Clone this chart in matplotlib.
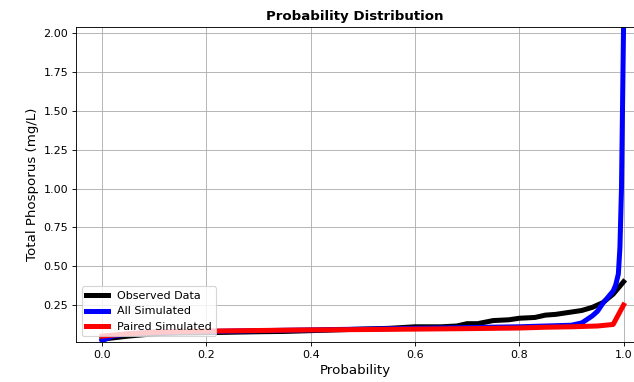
import matplotlib.pyplot as plt
import numpy as np

# probability (x) and total phosphorus (y)
obs_prob = [0.0, 0.05, 0.1, 0.15, 0.2, 0.25, 0.3, 0.35, 0.4, 0.45, 0.5, 0.55,
            0.6, 0.65, 0.68, 0.7, 0.72, 0.75, 0.78, 0.8, 0.83, 0.85, 0.87,
            0.9, 0.92, 0.94, 0.96, 0.98, 1.0]
obs_tp = [0.03, 0.05, 0.065, 0.07, 0.072, 0.075, 0.078, 0.08, 0.085, 0.09, 0.095,
          0.1, 0.11, 0.11, 0.115, 0.13, 0.13, 0.15, 0.155, 0.165, 0.17, 0.185,
          0.19, 0.205, 0.215, 0.235, 0.265, 0.32, 0.40]

all_prob = [0.0, 0.02, 0.05, 0.1, 0.2, 0.3, 0.4, 0.5, 0.6, 0.7, 0.8, 0.85, 0.9,
            0.92, 0.94, 0.95, 0.96, 0.97, 0.98, 0.985, 0.99, 0.993, 0.996, 1.0]
all_tp = [0.02, 0.05, 0.065, 0.075, 0.08, 0.085, 0.09, 0.095, 0.1, 0.105, 0.11,
          0.115, 0.12, 0.135, 0.18, 0.21, 0.26, 0.3, 0.34, 0.38, 0.45, 0.62,
          1.0, 2.05]

pair_prob = [0.0, 0.05, 0.1, 0.2, 0.3, 0.4, 0.5, 0.6, 0.7, 0.8, 0.85, 0.9,
             0.95, 0.98, 1.0]
pair_tp = [0.05, 0.065, 0.075, 0.082, 0.086, 0.09, 0.092, 0.095, 0.098, 0.102,
           0.107, 0.11, 0.115, 0.125, 0.25]

fig = plt.figure(figsize=(634/80, 382/80), dpi=80)
ax = fig.add_axes([76/634, 40/382, 558/634, 315/382])

ax.plot(obs_prob, obs_tp, color='black', lw=4.5, label='Observed Data')
ax.plot(all_prob, all_tp, color='blue', lw=4.5, label='All Simulated')
ax.plot(pair_prob, pair_tp, color='red', lw=4.5, label='Paired Simulated')

ax.set_xlim(-0.05, 1.02)
ax.set_ylim(0.012, 2.04)
ax.set_yticks([0.25, 0.5, 0.75, 1.0, 1.25, 1.5, 1.75, 2.0])
ax.grid(True)
ax.set_title('Probability Distribution', fontweight='bold', fontsize=12)
ax.set_xlabel('Probability', fontsize=12)
ax.set_ylabel('Total Phosporus (mg/L)', fontsize=12)
ax.legend(loc='lower left', fontsize=10)

plt.savefig('out.png', dpi=80)
